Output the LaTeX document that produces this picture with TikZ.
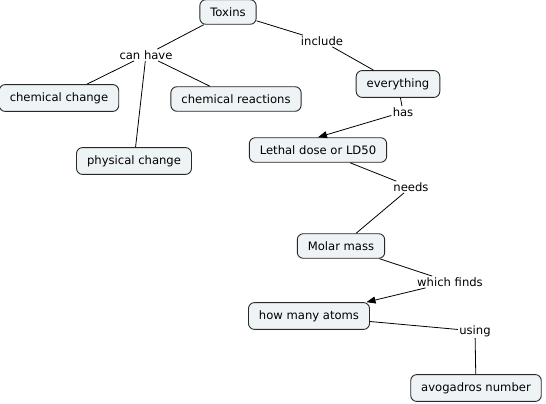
\documentclass[tikz,border=0pt]{standalone}
\usepackage{fontspec}
\setmainfont{DejaVu Sans}
\usetikzlibrary{arrows.meta}
\definecolor{conceptfill}{RGB}{238,243,246}
\definecolor{conceptline}{RGB}{40,40,40}
\begin{document}
\begin{tikzpicture}[x=1pt, y=-1pt,
                    font=\fontsize{11.6}{13}\selectfont,
                    concept/.style={draw=conceptline, fill=conceptfill, line width=0.9pt,
                                    rounded corners=6pt, inner xsep=10.5pt, inner ysep=7.8pt},
                    linking/.style={inner sep=1pt},
                    every path/.style={line width=0.8pt}
                    ]
                    \useasboundingbox (0,0) rectangle (546,404);

                    \node[concept] (toxins) at (228,12) {Toxins};
                    \node[concept] (chemchange) at (59,98) {chemical change};
                    \node[concept] (chemreact) at (236,99) {chemical reactions};
                    \node[concept] (physchange) at (134,161) {physical change};
                    \node[concept] (everything) at (398,84) {everything};
                    \node[concept] (lethal) at (318,150) {Lethal dose or LD50};
                    \node[concept] (molar) at (341,246) {Molar mass};
                    \node[concept] (atoms) at (309,316) {how many atoms};
                    \node[concept] (avogadro) at (476,388) {avogadros number};

                    \node[linking] (canhave) at (146,55) {can have};
                    \node[linking] (include) at (322,41) {include};
                    \node[linking] (has) at (403,112) {has};
                    \node[linking] (needs) at (411,187) {needs};
                    \node[linking] (finds) at (450,282) {which finds};
                    \node[linking] (using) at (475,331) {using};

                    \foreach \i/\j in {toxins/canhave,canhave/chemchange,canhave/chemreact,
                                       canhave/physchange,toxins/include,include/everything,
                                       everything/has,lethal/needs,needs/molar,molar/finds,
                                       atoms/using,using/avogadro}{
                        \draw (\i) -- (\j);
                    }
                    \draw[-{Triangle[length=9pt,width=7pt]}] (has) -- (lethal.north);
                    \draw[-{Triangle[length=9pt,width=7pt]}] (finds) -- (atoms);
                \end{tikzpicture}
\end{document}
